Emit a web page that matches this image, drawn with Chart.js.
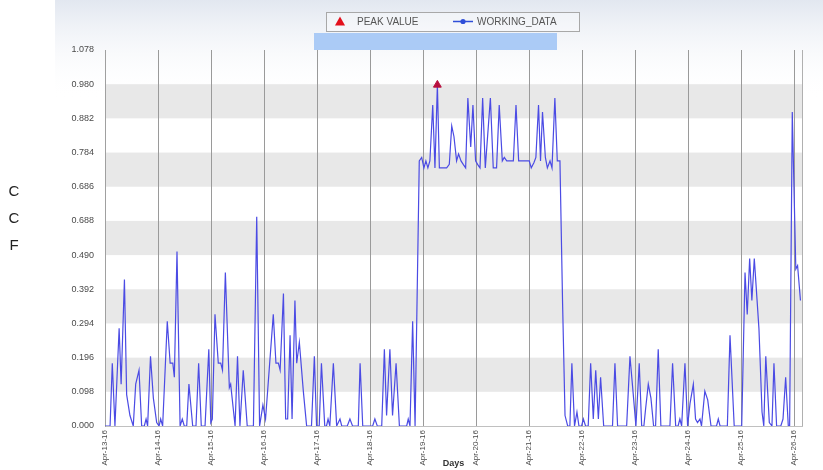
<!DOCTYPE html>
<html>
<head>
<meta charset="utf-8">
<script src="https://cdn.jsdelivr.net/npm/chart.js@4.4.0/dist/chart.umd.min.js"></script>
<style>
  html, body { margin: 0; padding: 0; background: #ffffff; }
  #wrap { width: 823px; height: 470px; position: relative; }
</style>
</head>
<body>
<div id="wrap"><canvas id="c" width="823" height="470"></canvas></div>
<script>
// ---------- data ----------
const dayLabels = ['Apr-13-16','Apr-14-16','Apr-15-16','Apr-16-16','Apr-17-16','Apr-18-16','Apr-19-16',
                   'Apr-20-16','Apr-21-16','Apr-22-16','Apr-23-16','Apr-24-16','Apr-25-16','Apr-26-16'];
const yTickValues = [0, 0.098, 0.196, 0.294, 0.392, 0.490, 0.588, 0.686, 0.784, 0.882, 0.980, 1.078];
const yTickLabels = ['0.000','0.098','0.196','0.294','0.392','0.490','0.688','0.686','0.784','0.882','0.980','1.078'];
const yAxisTitle = ['C', 'C', 'F'];
const xAxisTitle = 'Days';
const seriesNames = ['PEAK VALUE', 'WORKING_DATA'];

// hours since Apr-13-16 00:00
const hours = [
  0,2.3,3.3,4.5,6.4,7.3,8.8,9.8,11.3,12.8,13.9,15.4,16.6,17.8,18.6,19.3,20.6,21.9,23.4,
  24.5,25.2,26.1,28.2,29.5,30.7,31.4,32.6,34.0,35.0,35.9,37.0,38.0,39.7,41.2,42.4,43.6,45.3,47.0,
  47.9,48.6,49.8,51.3,52.4,53.2,54.5,56.3,56.9,58.9,60.0,61.1,62.6,64.4,67.2,68.7,70.0,71.5,
  72.7,76.2,77.4,78.5,79.3,80.8,81.8,82.7,83.8,84.7,86.0,86.8,88.0,89.8,91.3,93.5,94.8,95.8,
  97.0,98.0,99.5,100.3,101.0,101.8,103.4,104.9,106.4,107.2,109.7,110.9,112.1,114.7,115.5,116.7,
  121.2,122.2,123.3,125.3,126.5,127.5,129.0,130.2,131.8,133.3,136.6,137.3,138.1,139.3,140.4,
  142.3,143.4,144.4,145.3,146.2,147.1,148.4,149.4,150.5,151.4,154.7,155.9,157.0,158.0,159.2,160.1,161.2,162.2,163.3,
  164.3,165.6,166.6,167.8,168.7,169.8,171.0,172.2,174.5,175.8,177.3,178.5,179.9,180.8,181.9,184.9,186.1,187.3,
  192.1,193.0,194.2,195.1,196.3,197.2,198.1,199.4,200.3,201.5,202.4,203.7,204.8,206.0,207.2,208.3,209.5,210.5,211.4,212.6,213.7,
  214.6,215.8,216.6,217.6,218.8,219.9,221.1,222.2,223.4,224.4,225.8,229.8,230.9,232.1,236.2,237.7,239.2,240.4,
  241.9,243.0,244.0,244.8,246.0,247.2,248.4,249.3,250.5,251.7,255.8,257.0,258.4,259.5,260.3,261.1,262.6,263.8,
  264.9,266.4,267.4,268.3,269.4,270.1,271.6,272.9,274.4,276.9,277.7,278.5,281.8,283.0,284.9,288.3,289.8,290.8,
  291.9,292.9,294.0,296.1,297.5,298.3,299.2,300.8,302.0,302.9,304.1,306.0,307.0,308.2,309.4,310.0,311.2,312.8,313.6,314.9
];
const values = [
  0,0,0.18,0,0.28,0.12,0.42,0.09,0.03,0,0.12,0.16,0,0,0.02,0,0.20,0.08,0.01,
  0,0.02,0,0.30,0.18,0.18,0.14,0.50,0,0.02,0,0,0.12,0,0,0.18,0,0,0.22,
  0.01,0.02,0.32,0.18,0.18,0.16,0.44,0.11,0.12,0,0.20,0,0.16,0,0,0.60,0,0.06,
  0.02,0.32,0.18,0.18,0.16,0.38,0.02,0.02,0.26,0.02,0.36,0.18,0.24,0.10,0,0,0.20,0,
  0,0.18,0,0,0.02,0,0.18,0,0.02,0,0,0.02,0,0,0.18,0,
  0,0.02,0,0,0.22,0.03,0.22,0.03,0.18,0,0,0.02,0,0.30,0,
  0.76,0.77,0.74,0.76,0.74,0.76,0.92,0.74,0.978,0.74,0.74,0.75,0.86,0.83,0.76,0.78,0.76,0.75,0.74,
  0.94,0.80,0.92,0.76,0.75,0.74,0.94,0.74,0.94,0.74,0.74,0.92,0.76,0.77,0.76,0.76,0.92,0.76,
  0.76,0.74,0.755,0.77,0.92,0.76,0.90,0.77,0.74,0.76,0.74,0.94,0.76,0.76,0.35,0.03,0,0,0.18,0,0.04,
  0,0,0.02,0,0,0.18,0.02,0.16,0.02,0.14,0,0,0.18,0,0,0.20,0.09,0,
  0.18,0,0,0.05,0.12,0.08,0,0,0.22,0,0,0.18,0,0,0.02,0,0.18,0,
  0.065,0.12,0.02,0.01,0.02,0,0.10,0.075,0,0,0.02,0,0,0.26,0,0,0.44,0.32,
  0.48,0.36,0.48,0.28,0.04,0,0.20,0.01,0,0.18,0,0,0.02,0.14,0,0,0.90,0.45,0.46,0.36
];
const peakHours = [150.5];
const peakValues = [0.978];
const xMaxHours = 315.6;

// ---------- styles ----------
const FONT = "'Liberation Sans', Arial, Helvetica, sans-serif";
Chart.defaults.font.family = FONT;
const LINE_COLOR = '#4b4be4';
const PEAK_COLOR = '#b80f3e';
const BAND_COLOR = '#e8e8e8';

const workingData = hours.map((h, i) => ({ x: h, y: values[i] }));
const peakData = peakHours.map((h, i) => ({ x: h, y: peakValues[i] }));

const decor = {
  id: 'decor',
  beforeDraw(chart) {
    const ctx = chart.ctx;
    const ca = chart.chartArea;
    const ys = chart.scales.y;
    ctx.save();
    ctx.fillStyle = '#ffffff';
    ctx.fillRect(0, 0, chart.width, chart.height);
    const g = ctx.createLinearGradient(0, 0, 0, 100);
    g.addColorStop(0, '#e2e7f0');
    g.addColorStop(1, 'rgba(255,255,255,0)');
    ctx.fillStyle = g;
    ctx.fillRect(55, 0, chart.width - 55, 100);
    // alternating bands
    ctx.fillStyle = BAND_COLOR;
    for (let i = 1; i < yTickValues.length - 1; i += 2) {
      const yTop = ys.getPixelForValue(yTickValues[i + 1]);
      const yBot = ys.getPixelForValue(yTickValues[i]);
      ctx.fillRect(ca.left, yTop, ca.right - ca.left, yBot - yTop);
    }
    ctx.restore();
  },
  afterDraw(chart) {
    const ctx = chart.ctx;
    const ca = chart.chartArea;
    ctx.save();
    // right border of plot
    ctx.strokeStyle = '#b0b0b0';
    ctx.lineWidth = 1;
    ctx.beginPath();
    ctx.moveTo(Math.round(ca.right) + 0.5, ca.top);
    ctx.lineTo(Math.round(ca.right) + 0.5, ca.bottom);
    ctx.stroke();

    // legend box
    ctx.fillStyle = 'rgba(255,255,255,0.35)';
    ctx.fillRect(326.5, 12.5, 253, 19);
    ctx.strokeStyle = '#a8a8a8';
    ctx.strokeRect(326.5, 12.5, 253, 19);
    // triangle
    ctx.fillStyle = '#e3101c';
    ctx.beginPath();
    ctx.moveTo(340, 16.5);
    ctx.lineTo(345, 25.5);
    ctx.lineTo(335, 25.5);
    ctx.closePath();
    ctx.fill();
    ctx.font = '10px ' + FONT;
    ctx.fillStyle = '#555555';
    ctx.textBaseline = 'middle';
    ctx.textAlign = 'left';
    ctx.fillText(chart.data.datasets[0].label, 357, 22);
    // line + dot
    ctx.strokeStyle = '#2f4fd8';
    ctx.lineWidth = 1.5;
    ctx.beginPath();
    ctx.moveTo(453, 21.5);
    ctx.lineTo(473, 21.5);
    ctx.stroke();
    ctx.fillStyle = '#2f4fd8';
    ctx.beginPath();
    ctx.arc(463, 21.5, 2.6, 0, Math.PI * 2);
    ctx.fill();
    ctx.fillStyle = '#555555';
    ctx.fillText(chart.data.datasets[1].label, 477, 22);

    // blue banner
    ctx.fillStyle = '#abcbf6';
    ctx.fillRect(314, 33, 243, 17);

    // stacked y title
    ctx.font = '15px ' + FONT;
    ctx.fillStyle = '#222222';
    ctx.textAlign = 'center';
    ctx.textBaseline = 'middle';
    yAxisTitle.forEach((ch, i) => ctx.fillText(ch, 14, 192 + i * 27));
    ctx.restore();
  }
};

new Chart(document.getElementById('c'), {
  type: 'line',
  data: {
    datasets: [
      {
        label: seriesNames[0],
        data: peakData,
        showLine: false,
        pointStyle: 'triangle',
        pointRadius: 4.5,
        pointBackgroundColor: PEAK_COLOR,
        pointBorderColor: PEAK_COLOR,
        backgroundColor: PEAK_COLOR,
        borderColor: PEAK_COLOR
      },
      {
        label: seriesNames[1],
        data: workingData,
        borderColor: LINE_COLOR,
        backgroundColor: LINE_COLOR,
        borderWidth: 1.2,
        pointRadius: 0,
        tension: 0,
        fill: false
      }
    ]
  },
  options: {
    responsive: false,
    animation: false,
    devicePixelRatio: 1,
    layout: { padding: { top: 50, right: 21, bottom: 0, left: 0 } },
    plugins: { legend: { display: false }, tooltip: { enabled: false } },
    scales: {
      x: {
        type: 'linear',
        min: 0,
        max: xMaxHours,
        afterBuildTicks: (s) => { s.ticks = dayLabels.map((_, i) => ({ value: i * 24 })); },
        afterFit: (s) => { s.height = 44; },
        ticks: {
          autoSkip: false,
          minRotation: 90,
          maxRotation: 90,
          padding: 4,
          color: '#4a4a4a',
          font: { size: 8 },
          callback: (v) => dayLabels[Math.round(v / 24)]
        },
        grid: { color: '#9a9a9a', lineWidth: 1, drawTicks: false },
        border: { display: true, color: '#c0c0c0' },
        title: { display: true, text: xAxisTitle, color: '#333333', font: { size: 9, weight: 'bold' }, padding: { top: 0, bottom: 1 } }
      },
      y: {
        min: 0,
        max: 1.078,
        afterBuildTicks: (s) => { s.ticks = yTickValues.map(v => ({ value: v })); },
        afterFit: (s) => { s.width = 105; },
        ticks: {
          padding: 11,
          color: '#4a4a4a',
          font: { size: 9 },
          callback: (v, i) => yTickLabels[i]
        },
        grid: { display: false, drawTicks: false },
        border: { display: true, color: '#a0a0a0' }
      }
    }
  },
  plugins: [decor]
});
</script>
</body>
</html>
